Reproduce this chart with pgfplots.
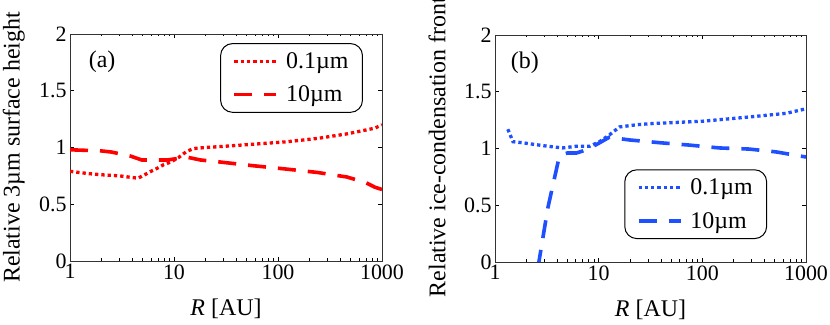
\documentclass[border=0pt]{standalone}
\usepackage{fontspec}
\setmainfont{Liberation Serif}
\usepackage{pgfplots}
\pgfplotsset{compat=1.18}
\definecolor{cred}{RGB}{255,0,0}
\definecolor{cblue}{RGB}{30,80,255}
\tikzset{
 dotl/.style={line width=3.3bp, dash pattern=on 3.3bp off 3bp},
 dasl/.style={line width=3.6bp, dash pattern=on 18bp off 12bp},
}
\begin{document}
\begin{tikzpicture}
\useasboundingbox (0,0) rectangle (830bp,325bp);
\begin{axis}[xmode=log, scale only axis, width=312bp, height=227bp,
  xmin=1,xmax=1000,ymin=0,ymax=2,
  xtick={1,10,100,1000}, xticklabels={\textrm{1},\textrm{10},\textrm{100},\textrm{1000}},
  ytick={0,0.5,1,1.5,2}, yticklabels={\textrm{0},\textrm{0.5},\textrm{1},\textrm{1.5},\textrm{2}},
  tick align=inside, major tick length=4bp, minor tick length=2.5bp,
  every tick/.style={black, line width=0.6bp},
  axis line style={line width=0.8bp, black!80},
  tick label style={font=\fontsize{22}{26}\selectfont},
  label style={font=\fontsize{24}{28}\selectfont},
  xlabel={\textit{R} [AU]},
  xlabel style={at={(axis description cs:0.5,-0.211)}, anchor=center},
  legend style={draw=black, line width=1bp, rounded corners=12bp,
    font=\fontsize{24}{28}\selectfont, inner xsep=12bp, inner ysep=7bp, row sep=12bp},
  legend cell align=left,
  legend image code/.code={\draw[#1] (0bp,0bp) -- (42bp,0bp);},
  at={(70bp,64bp)}, anchor=south west,
  ylabel={Relative 3µm surface height},
  ylabel style={at={(axis description cs:-0.18,0.5)}, anchor=center, rotate=0},
  legend style={at={(0.939,0.960)}, anchor=north east}]
\addplot[cred, dotl] coordinates {
(1,0.79) (1.5,0.77) (2,0.76) (3,0.75) (4,0.735) (4.5,0.73) (5,0.75) (6,0.79) (7,0.82) (8,0.85) (9.2,0.87) (11,0.91) (13,0.96) (15.2,0.99) (20,1.00) (30,1.01) (60,1.03) (120,1.05) (240,1.08) (460,1.12) (850,1.17) (1000,1.20)};
\addlegendentry{\hspace{6bp}0.1µm\hspace{4bp}}
\addplot[cred, dasl] coordinates {
(1,0.98) (2,0.97) (2.5,0.96) (3.8,0.925) (4.9,0.89) (8.6,0.89) (13.3,0.915) (18,0.89) (26,0.875) (57,0.84) (120,0.81) (240,0.78) (460,0.74) (700,0.69) (855,0.65) (1000,0.63)};
\addlegendentry{\hspace{6bp}10µm}
\node[font=\fontsize{24}{28}\selectfont] at (rel axis cs:0.103,0.877) {(a)};
\end{axis}
\begin{axis}[xmode=log, scale only axis, width=311bp, height=227bp,
  xmin=1,xmax=1000,ymin=0,ymax=2,
  xtick={1,10,100,1000}, xticklabels={\textrm{1},\textrm{10},\textrm{100},\textrm{1000}},
  ytick={0,0.5,1,1.5,2}, yticklabels={\textrm{0},\textrm{0.5},\textrm{1},\textrm{1.5},\textrm{2}},
  tick align=inside, major tick length=4bp, minor tick length=2.5bp,
  every tick/.style={black, line width=0.6bp},
  axis line style={line width=0.8bp, black!80},
  tick label style={font=\fontsize{22}{26}\selectfont},
  label style={font=\fontsize{24}{28}\selectfont},
  xlabel={\textit{R} [AU]},
  xlabel style={at={(axis description cs:0.5,-0.211)}, anchor=center},
  legend style={draw=black, line width=1bp, rounded corners=12bp,
    font=\fontsize{24}{28}\selectfont, inner xsep=12bp, inner ysep=7bp, row sep=12bp},
  legend cell align=left,
  legend image code/.code={\draw[#1] (0bp,0bp) -- (42bp,0bp);},
  at={(495bp,63bp)}, anchor=south west,
  ylabel={Relative ice-condensation front},
  ylabel style={at={(axis description cs:-0.186,0.506)}, anchor=center, rotate=0},
  legend style={at={(0.875,0.101)}, anchor=south east}]
\addplot[cblue, dotl] coordinates {
(1.33,1.17) (1.49,1.06) (1.86,1.05) (3.2,1.02) (4.5,1.005) (6.1,1.02) (8.2,1.02) (10.2,1.06) (12.7,1.12) (15.9,1.19) (23.7,1.21) (33,1.22) (100,1.24) (302,1.28) (645,1.31) (1000,1.35)};
\addlegendentry{\hspace{6bp}0.1µm\hspace{4bp}}
\addplot[cblue, dasl] coordinates {
(2.6,-0.05) (2.65,0) (3.24,0.48) (4.1,0.90) (4.5,0.95) (5,0.96) (6.1,0.96) (7.7,0.99) (10.2,1.05) (12.7,1.10) (15,1.09) (20,1.075) (40,1.05) (75,1.03) (145,1.005) (283,0.995) (515,0.97) (1000,0.925)};
\addlegendentry{\hspace{6bp}10µm}
\node[font=\fontsize{24}{28}\selectfont] at (rel axis cs:0.096,0.877) {(b)};
\end{axis}
\end{tikzpicture}
\end{document}
